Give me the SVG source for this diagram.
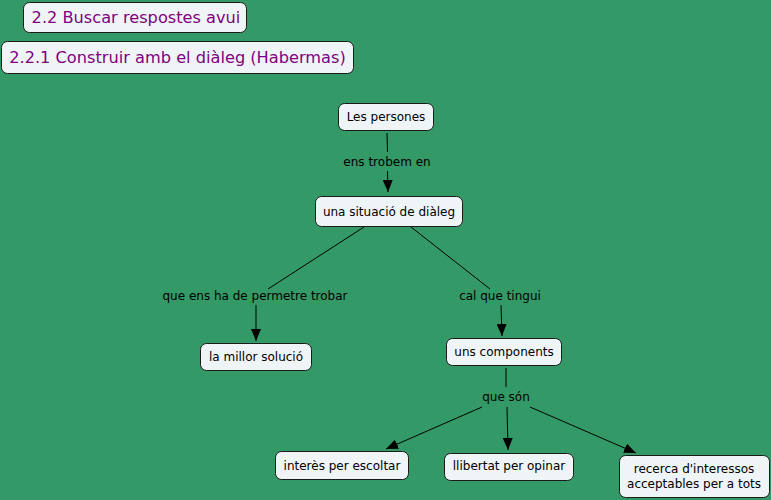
<svg xmlns="http://www.w3.org/2000/svg" width="771" height="500" viewBox="0 0 771 500">
<defs>
<style>
.node rect{fill:#eff4f7;stroke:#1a1a1a;stroke-width:1}
.node text{font-family:"DejaVu Sans",Verdana,sans-serif;font-size:12px;fill:#000;text-anchor:middle}
.title text{font-size:16.2px;fill:#800080}
.lbl{font-family:"DejaVu Sans",Verdana,sans-serif;font-size:12px;fill:#000;text-anchor:middle}
.edge{stroke:#000;stroke-width:1;fill:none}
</style>
<marker id="ah" viewBox="0 0 12 10" refX="12" refY="5" markerWidth="12" markerHeight="10" markerUnits="userSpaceOnUse" orient="auto">
<path d="M0,0 L12,5 L0,10 Z" fill="#000"/>
</marker>
</defs>
<rect width="771" height="500" fill="#339966"/>
<g id="connectors">
<line class="edge" x1="387" y1="133" x2="387.5" y2="152"/>
<line class="edge" x1="387.5" y1="171" x2="388" y2="192" marker-end="url(#ah)"/>
<line class="edge" x1="364" y1="227" x2="268" y2="289"/>
<line class="edge" x1="256" y1="305" x2="256" y2="341" marker-end="url(#ah)"/>
<line class="edge" x1="411" y1="227" x2="490" y2="289"/>
<line class="edge" x1="501" y1="305" x2="502" y2="336" marker-end="url(#ah)"/>
<line class="edge" x1="506" y1="368" x2="506" y2="387"/>
<line class="edge" x1="482" y1="407" x2="386" y2="449" marker-end="url(#ah)"/>
<line class="edge" x1="507" y1="407" x2="508" y2="450" marker-end="url(#ah)"/>
<line class="edge" x1="530" y1="407" x2="636" y2="453" marker-end="url(#ah)"/>
</g>
<text class="lbl" x="387" y="166">ens trobem en</text>
<text class="lbl" x="255" y="300">que ens ha de permetre trobar</text>
<text class="lbl" x="500" y="300">cal que tingui</text>
<text class="lbl" x="506" y="401">que són</text>
<g id="n-title1" class="node title"><rect x="23.5" y="2.5" width="223" height="30" rx="6"/><text x="136" y="23">2.2 Buscar respostes avui</text></g>
<g id="n-title2" class="node title"><rect x="1.5" y="41.5" width="352" height="32" rx="6"/><text x="177.5" y="63">2.2.1 Construir amb el diàleg (Habermas)</text></g>
<g id="n-persones" class="node"><rect x="338.5" y="103.5" width="95" height="27" rx="6"/><text x="386" y="121">Les persones</text></g>
<g id="n-situacio" class="node"><rect x="315.5" y="196.5" width="147" height="30" rx="6"/><text x="389" y="215.5">una situació de diàleg</text></g>
<g id="n-solucio" class="node"><rect x="200.5" y="343.5" width="111" height="27" rx="6"/><text x="256" y="361">la millor solució</text></g>
<g id="n-components" class="node"><rect x="446.5" y="338.5" width="115" height="27" rx="6"/><text x="504" y="356">uns components</text></g>
<g id="n-escoltar" class="node"><rect x="275.5" y="451.5" width="133" height="28" rx="6"/><text x="342" y="470">interès per escoltar</text></g>
<g id="n-opinar" class="node"><rect x="444.5" y="453.5" width="129" height="27" rx="6"/><text x="509" y="470">llibertat per opinar</text></g>
<g id="n-recerca" class="node"><rect x="619.5" y="455.5" width="150" height="42" rx="6"/><text x="694" y="473">recerca d'interessos</text><text x="694" y="488">acceptables per a tots</text></g>
</svg>
